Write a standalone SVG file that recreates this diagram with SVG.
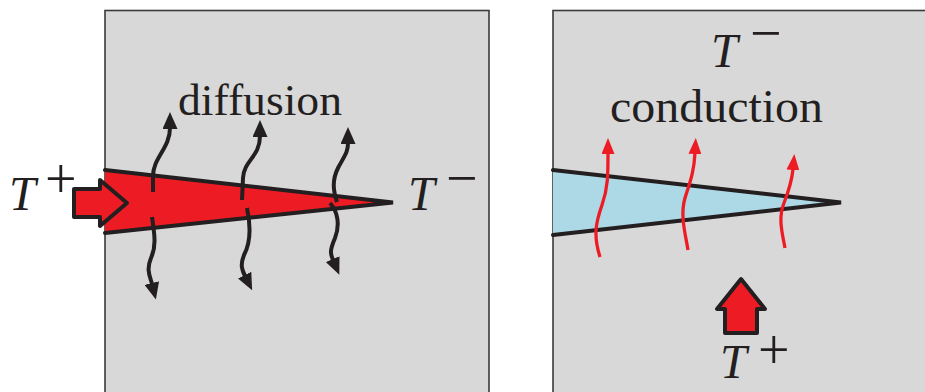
<svg xmlns="http://www.w3.org/2000/svg" width="925" height="392" viewBox="0 0 925 392">
<defs>
<style>
.panel{fill:#d8d8d8;stroke:#3a3a3a;stroke-width:1.6}
.edge{fill:none;stroke:#231f20;stroke-width:4;stroke-linejoin:miter;stroke-linecap:round}
.wave{fill:none;stroke:#231f20;stroke-width:4;stroke-linecap:butt}
.rwave{fill:none;stroke:#ed1c24;stroke-width:3.3;stroke-linecap:butt}
.big{fill:#ed1c24;stroke:#231f20;stroke-width:4;stroke-linejoin:round}
.lbl{font-family:"Liberation Serif","DejaVu Serif",serif;fill:#231f20}
.it{font-style:italic}
</style>
<marker id="ahk" viewBox="0 0 17 15" refX="1" refY="7.5" markerWidth="17" markerHeight="15" markerUnits="userSpaceOnUse" orient="auto">
<path d="M0,0 L17,7.5 L0,15 z" fill="#231f20"/>
</marker>
<marker id="ahr" viewBox="0 0 16 13" refX="1" refY="6.5" markerWidth="16" markerHeight="13" markerUnits="userSpaceOnUse" orient="auto">
<path d="M0,0 L16,6.5 L0,13 z" fill="#ed1c24"/>
</marker>
</defs>

<g id="panel-left">
<rect class="panel" x="105" y="10.5" width="384" height="400"/>
</g>
<g id="panel-right">
<rect class="panel" x="553" y="10.5" width="400" height="400"/>
</g>

<g id="wedge-left">
<polygon fill="#ed1c24" points="105,170 393,202.5 105,233"/>
<polyline class="edge" points="105,170 393,202.5 105,233"/>
</g>
<g id="wedge-right">
<polygon fill="#add8e6" points="553,170 841,202.5 553,235"/>
<polyline class="edge" points="553,170 841,202.5 553,235"/>
</g>

<g id="connectors">
<path class="wave" marker-end="url(#ahk)" d="M153,192 L153,176 C153,158 170,148 170,128"/>
<path class="wave" marker-end="url(#ahk)" d="M152,217 C154,232 157,245 151,258 C146,270 150,276 152,284"/>
<path class="wave" marker-end="url(#ahk)" d="M242,200 L243,178 C244,160 260,157 260,136"/>
<path class="wave" marker-end="url(#ahk)" d="M247,208 C250,222 252,240 244,255 C240,265 242,270 245,276"/>
<path class="wave" marker-end="url(#ahk)" d="M337,202 C333,190 332,180 338,168 C345,155 348,152 348,143"/>
<path class="wave" marker-end="url(#ahk)" d="M330,203 C338,212 340,225 335,238 C330,250 330,253 333,260"/>
<path class="rwave" marker-end="url(#ahr)" d="M600,257 C593,235 596,222 602,205 C608,188 608,175 608,153"/>
<path class="rwave" marker-end="url(#ahr)" d="M688,250 C685,232 680,215 685,198 C690,182 694,172 695,153"/>
<path class="rwave" marker-end="url(#ahr)" d="M785,248 C782,232 778,218 784,203 C789,190 792,180 793,169"/>
</g>

<g id="arrow-left">
<polygon class="big" points="74,189 100,189 100,180 127,203 100,226 100,217 74,217"/>
</g>
<g id="arrow-up">
<polygon class="big" points="725,333 757,333 757,309 765,309 741,279 717,309 725,309"/>
</g>

<g id="label-tplus-left">
<text class="lbl it" x="9" y="210" font-size="48">T</text>
<text class="lbl" x="45" y="197.5" font-size="56">+</text>
</g>
<g id="label-tminus-left">
<text class="lbl it" x="408" y="210" font-size="48">T</text>
<text class="lbl" x="446" y="197" font-size="56">−</text>
</g>
<g id="label-diffusion">
<text class="lbl" x="178" y="115" font-size="45" textLength="164" lengthAdjust="spacingAndGlyphs">diffusion</text>
</g>
<g id="label-tminus-right">
<text class="lbl it" x="711" y="67" font-size="48">T</text>
<text class="lbl" x="750" y="52" font-size="56">−</text>
</g>
<g id="label-conduction">
<text class="lbl" x="610" y="122" font-size="47" textLength="213" lengthAdjust="spacingAndGlyphs">conduction</text>
</g>
<g id="label-tplus-bottom">
<text class="lbl it" x="720" y="378" font-size="48">T</text>
<text class="lbl" x="758" y="369" font-size="56">+</text>
</g>
</svg>
